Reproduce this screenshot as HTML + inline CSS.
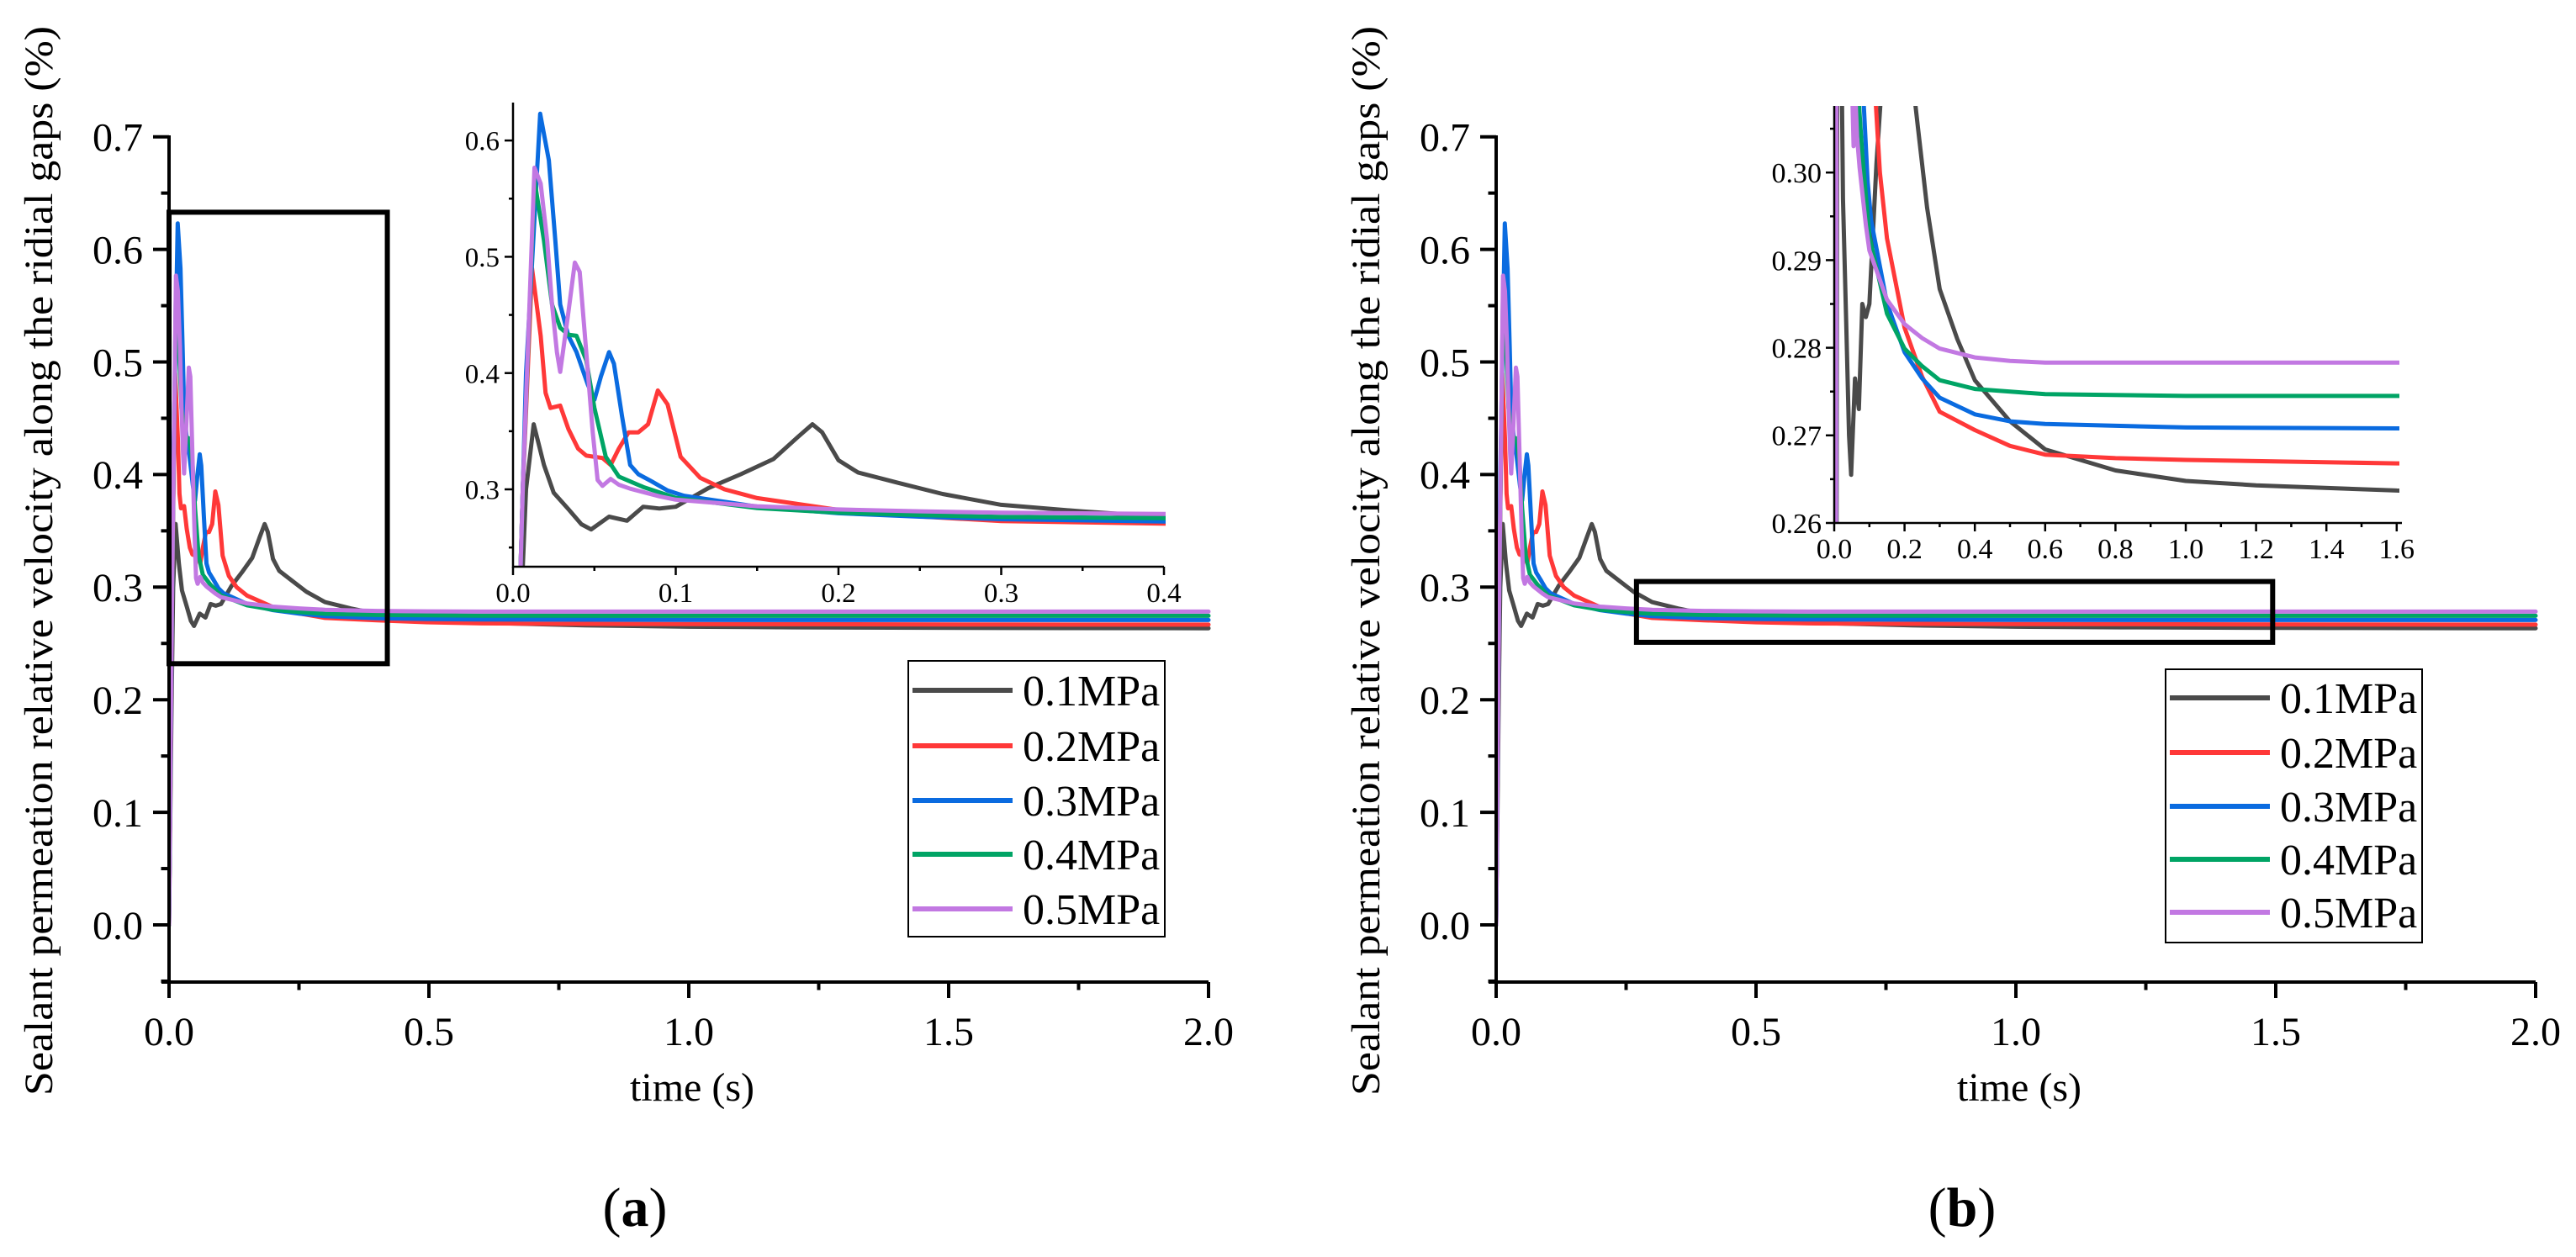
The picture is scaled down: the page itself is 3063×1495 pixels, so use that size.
<!DOCTYPE html>
<html><head><meta charset="utf-8"><style>
html,body{margin:0;padding:0;background:#fff;overflow:hidden;width:3063px;height:1495px;}
svg{display:block;}
svg text{font-family:"Liberation Serif","Times New Roman",serif;}
</style></head><body>
<svg id="fig" xmlns="http://www.w3.org/2000/svg" width="3063" height="1495" viewBox="0 0 3063 1495" font-family="Liberation Serif, serif">
<defs>
<clipPath id="clipA"><rect x="201" y="100" width="1240" height="1068"/></clipPath>
<clipPath id="clipB"><rect x="1779" y="100" width="1240" height="1068"/></clipPath>
<clipPath id="clipIA"><rect x="610" y="122" width="776" height="552"/></clipPath>
<clipPath id="clipIB"><rect x="2181" y="126" width="672" height="496"/></clipPath>
</defs>
</svg>
<script>
// ---- data ----
const seriesNames = ["0.1MPa","0.2MPa","0.3MPa","0.4MPa","0.5MPa"];
const seriesColors = ["#4a4a4a","#ff3838","#0a6be0","#00a465","#c278e2"];
const tGray = [0,0.005,0.008,0.0127,0.019,0.025,0.034,0.042,0.048,0.059,0.07,0.08,0.09,0.1,0.12,0.14,0.16,0.175,0.184,0.19,0.2,0.212,0.237,0.264,0.3,0.35,0.4,0.5,0.6,0.8,1.0,1.2,1.6,2.0];
const vGray = [0,0.2,0.3,0.356,0.321,0.297,0.283,0.27,0.2655,0.2765,0.273,0.285,0.2835,0.285,0.301,0.313,0.326,0.345,0.356,0.349,0.325,0.3145,0.3055,0.296,0.2867,0.281,0.2763,0.2716,0.2684,0.266,0.2648,0.2643,0.2637,0.2635];
const tRed = [0,0.006,0.0117,0.017,0.02,0.023,0.029,0.034,0.04,0.045,0.055,0.06,0.065,0.071,0.077,0.083,0.089,0.095,0.103,0.115,0.13,0.15,0.2,0.25,0.3,0.4,0.5,0.6,0.8,1.0,1.6,2.0];
const vRed = [0,0.3,0.49,0.432,0.383,0.37,0.372,0.352,0.335,0.329,0.327,0.321,0.335,0.349,0.349,0.356,0.385,0.373,0.328,0.31,0.3,0.2925,0.2823,0.2767,0.2727,0.2706,0.2688,0.2678,0.2674,0.2672,0.2668,0.2667];
const tBlue = [0,0.008,0.0167,0.022,0.026,0.029,0.034,0.039,0.046,0.05,0.054,0.059,0.062,0.067,0.072,0.077,0.085,0.095,0.105,0.15,0.2,0.25,0.3,0.4,0.5,0.6,1.0,1.6,2.0];
const vBlue = [0,0.4,0.623,0.583,0.514,0.459,0.432,0.418,0.39,0.377,0.397,0.418,0.408,0.363,0.321,0.313,0.307,0.299,0.2945,0.2851,0.2795,0.2765,0.2743,0.2724,0.2716,0.2713,0.2709,0.2708,0.2708];
const tGreen = [0,0.006,0.0132,0.019,0.024,0.029,0.034,0.039,0.045,0.05,0.057,0.065,0.08,0.1,0.15,0.2,0.25,0.3,0.4,0.6,1.0,1.6,2.0];
const vGreen = [0,0.3,0.566,0.514,0.459,0.439,0.433,0.432,0.411,0.37,0.328,0.311,0.302,0.2927,0.2839,0.2799,0.2779,0.2763,0.2753,0.2747,0.2745,0.2745,0.2745];
const tPurple = [0,0.006,0.0132,0.017,0.021,0.024,0.027,0.029,0.034,0.038,0.041,0.045,0.049,0.052,0.055,0.06,0.065,0.072,0.09,0.1,0.15,0.2,0.25,0.3,0.4,0.5,0.6,1.0,1.6,2.0];
const vPurple = [0,0.3,0.5766,0.563,0.514,0.459,0.418,0.401,0.452,0.495,0.487,0.418,0.349,0.308,0.303,0.309,0.304,0.3006,0.294,0.2911,0.2855,0.2827,0.2811,0.2799,0.2789,0.2785,0.2783,0.2783,0.2783,0.2783];
const mainXTicks = ["0.0","0.5","1.0","1.5","2.0"];
const mainYTicks = ["0.0","0.1","0.2","0.3","0.4","0.5","0.6","0.7"];
const insetAXTicks = ["0.0","0.1","0.2","0.3","0.4"];
const insetAYTicks = ["0.3","0.4","0.5","0.6"];
const insetBXTicks = ["0.0","0.2","0.4","0.6","0.8","1.0","1.2","1.4","1.6"];
const insetBYTicks = ["0.26","0.27","0.28","0.29","0.30"];
const zoomBoxA = [0, 0.42, 0.232, 0.633];
const zoomBoxB = [0.27, 1.494, 0.251, 0.305];

const T = [tGray,tRed,tBlue,tGreen,tPurple];
const V = [vGray,vRed,vBlue,vGreen,vPurple];
const NS = "http://www.w3.org/2000/svg";
const svg = document.getElementById('fig');
const FONT = '"Liberation Serif", serif';
function mk(tag, attrs, parent){ const e=document.createElementNS(NS,tag); for(const k in attrs) e.setAttribute(k,attrs[k]); if(tag==='text') e.setAttribute('font-family',FONT); (parent||svg).appendChild(e); return e; }

function axes(cfg){
  const g = mk('g',{});
  
  
  mk('line',{x1:cfg.axL - cfg.overhang, y1:cfg.axB, x2:cfg.axR, y2:cfg.axB, stroke:'#000','stroke-width':cfg.lw},g);
  mk('line',{x1:cfg.axL, y1:cfg.axB+cfg.lw/2, x2:cfg.axL, y2:cfg.axT, stroke:'#000','stroke-width':cfg.lw},g);
  cfg.xt.forEach((lab)=>{ const x=cfg.sx(parseFloat(lab));
    mk('line',{x1:x,y1:cfg.axB,x2:x,y2:cfg.axB+cfg.tl,stroke:'#000','stroke-width':cfg.lw},g);
    const t=mk('text',{x:x,y:cfg.xlabY,'text-anchor':'middle','font-size':cfg.fs},g); t.textContent=lab;
    
    
  });
  cfg.xm.forEach((v)=>{ const x=cfg.sx(v); mk('line',{x1:x,y1:cfg.axB,x2:x,y2:cfg.axB+cfg.tl*0.5,stroke:'#000','stroke-width':cfg.lw},g); });
  cfg.yt.forEach((lab)=>{ const y=cfg.sy(parseFloat(lab));
    mk('line',{x1:cfg.axL,y1:y,x2:cfg.axL-cfg.tl,y2:y,stroke:'#000','stroke-width':cfg.lw},g);
    const t=mk('text',{x:cfg.ylabX,y:y+cfg.fs*0.35,'text-anchor':'end','font-size':cfg.fs},g); t.textContent=lab;
    
    
  });
  cfg.ym.forEach((v)=>{ const y=cfg.sy(v); mk('line',{x1:cfg.axL,y1:y,x2:cfg.axL-cfg.tl*0.5,y2:y,stroke:'#000','stroke-width':cfg.lw},g); });
}
function lines(sx, sy, clip, lw, prefix){
  const g = mk('g',{'clip-path':'url(#'+clip+')'});
  
  
  T.forEach((ts,i)=>{
    const pts = ts.map((t,j)=>sx(t).toFixed(1)+','+sy(V[i][j]).toFixed(1)).join(' ');
    const p = mk('polyline',{points:pts,fill:'none',stroke:seriesColors[i],'stroke-width':lw,'stroke-linejoin':'round','stroke-linecap':'round'},g);
    
    
  });
}
function panel(ox, label){
  const sx = t=>ox + t*618, sy = v=>1100 - v*1339;
  const minX=[], minY=[];
  for(let k=0;k<4;k++) minX.push(k*0.5+0.25);
  for(let k=-1;k<7;k++) minY.push(k*0.1+0.05);
  lines(sx, sy, ox<1000?'clipA':'clipB', 5, 'main-'+label);
  axes({name:'main-axes-'+label, axL:ox, axR:ox+1236, axB:1168, axT:161, overhang:9, lw:4, tl:19,
    sx:sx, sy:sy, xt:mainXTicks, xm:minX, yt:mainYTicks, ym:minY, fs:48, xlabY:1243, ylabX:ox-31});
  const xt = mk('text',{x:ox+622,y:1309,'text-anchor':'middle','font-size':48}); xt.textContent='time (s)';
  
  
  const cx = ox-139, cy=667;
  const yt = mk('text',{x:cx,y:cy,'text-anchor':'middle','font-size':48,transform:'rotate(-90 '+cx+' '+cy+')',textLength:1272,lengthAdjust:'spacingAndGlyphs'});
  yt.textContent='Sealant permeation relative velocity along the ridial gaps (%)';
  
  
  const cap = mk('text',{x:ox+554,y:1458,'text-anchor':'middle','font-size':66});
  cap.innerHTML = '(<tspan font-weight="bold">'+label+'</tspan>)';
  
  
  const zb = label==='a'?zoomBoxA:zoomBoxB;
  const r = mk('rect',{x:sx(zb[0]),y:sy(zb[3]),width:sx(zb[1])-sx(zb[0]),height:sy(zb[2])-sy(zb[3]),fill:'none',stroke:'#000','stroke-width':6});
  
  
  const L = label==='a'?{x:1080,y:786,w:305,h:328,e:[821,887,952,1016,1081]}:{x:2575,y:796,w:305,h:325,e:[830,895,959,1022,1085]};
  const lg = mk('g',{});
  
  
  mk('rect',{x:L.x,y:L.y,width:L.w,height:L.h,fill:'#fff',stroke:'#000','stroke-width':2},lg);
  seriesNames.forEach((n,i)=>{
    const eg = mk('g',{},lg);
    
    
    mk('line',{x1:L.x+5,y1:L.e[i],x2:L.x+124,y2:L.e[i],stroke:seriesColors[i],'stroke-width':6},eg);
    const t=mk('text',{x:L.x+136,y:L.e[i]+18,'font-size':52},eg); t.textContent=n;
  });
}
panel(201,'a');
panel(1779,'b');

(function(){
  const sx=t=>610+t*1935, sy=v=>582-(v-0.3)*1383;
  lines(sx, sy, 'clipIA', 5, 'inset-a');
  const xm=[0.05,0.15,0.25,0.35], ym=[0.25,0.35,0.45,0.55];
  axes({name:'inset-a-axes', axL:610, axR:1384, axB:674, axT:122, overhang:0, lw:2.5, tl:10,
    sx:sx, sy:sy, xt:insetAXTicks, xm:xm, yt:insetAYTicks, ym:ym, fs:33, xlabY:716, ylabX:594});
})();
(function(){
  const sx=t=>2181+t*418, sy=v=>622-(v-0.26)*10420;
  lines(sx, sy, 'clipIB', 5, 'inset-b');
  const xm=[], ym=[];
  for(let k=0;k<8;k++) xm.push(k*0.2+0.1);
  for(let k=0;k<5;k++) ym.push(0.26+k*0.01+0.005);
  axes({name:'inset-b-axes', axL:2181, axR:2856, axB:622, axT:126, overhang:0, lw:2.5, tl:10,
    sx:sx, sy:sy, xt:insetBXTicks, xm:xm, yt:insetBYTicks, ym:ym, fs:34, xlabY:664, ylabX:2166});
})();
</script>
</body></html>
